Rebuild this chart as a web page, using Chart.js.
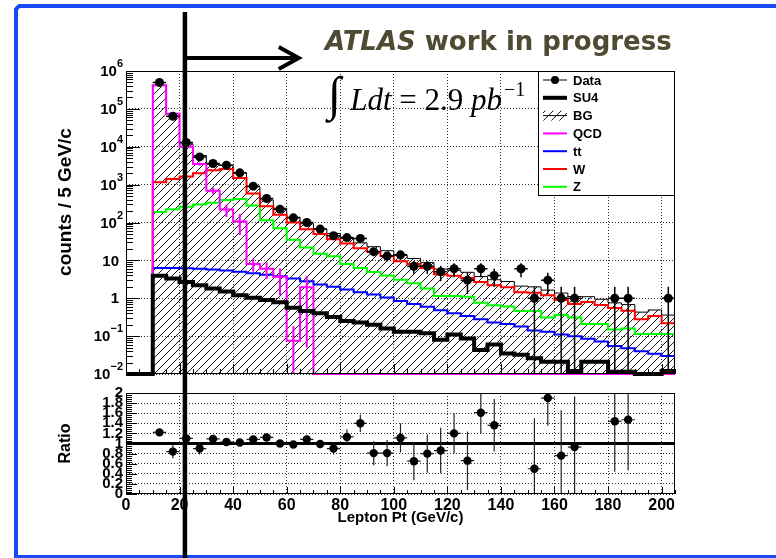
<!DOCTYPE html>
<html>
<head>
<meta charset="utf-8">
<script src="https://cdn.jsdelivr.net/npm/chart.js@4.4.1/dist/chart.umd.min.js"></script>
<style>
  html, body { margin: 0; padding: 0; background: #fff; overflow: hidden; }
  #page { position: relative; width: 776px; height: 558px; overflow: hidden; background: #fff; }
  .bar { position: absolute; background: #1a4af6; }
  #barTop { left: 18px; top: 4px; width: 758px; height: 4px; }
  #barLeft { left: 14px; top: 8px; width: 4px; height: 550px; }
  #barBottom { left: 18px; top: 555px; width: 758px; height: 3px; }
  #corner { position: absolute; left: 14px; top: 4px; width: 10px; height: 10px;
            border-top: 4px solid #1a4af6; border-left: 4px solid #1a4af6; border-radius: 7px 0 0 0; }
  canvas { position: absolute; left: 0; top: 0; }
  #atlas { position: absolute; left: 325px; top: 28px; font: bold 26px "DejaVu Sans"; line-height: 26px;
           color: #4f4a32; white-space: nowrap; }
  #lumi { position: absolute; left: 328px; top: 74px; font-family: "Liberation Serif"; font-size: 31px;
          line-height: 40px; white-space: nowrap; color: #000; }
  #lumi .int { font-size: 48px; line-height: 40px; margin-right: 9px; font-style: italic; }
  #lumi .sup { font-size: 20px; position: relative; top: -14px; margin-left: 2px; }
</style>
</head>
<body>
<div id="page">
  <div class="bar" id="barTop"></div>
  <div class="bar" id="barLeft"></div>
  <div class="bar" id="barBottom"></div>
  <div id="corner"></div>
  <canvas id="main" width="776" height="558"></canvas>
  <canvas id="ratio" width="776" height="558"></canvas>
  <div id="atlas"><i>ATLAS</i> work in progress</div>
  <div id="lumi"><span class="int">∫</span><i>Ldt</i> = 2.9 <i>pb</i><span class="sup">−1</span></div>
</div>
<script>
// 5 GeV bins, 0 - 205 GeV
const binEdges = [0, 5, 10, 15, 20, 25, 30, 35, 40, 45, 50, 55, 60, 65, 70, 75, 80, 85, 90, 95, 100,
  105, 110, 115, 120, 125, 130, 135, 140, 145, 150, 155, 160, 165, 170, 175, 180, 185, 190, 195, 200, 205];
const xTickValues = [0, 20, 40, 60, 80, 100, 120, 140, 160, 180, 200];
const yTickExponents = [-2, -1, 0, 1, 2, 3, 4, 5, 6];
const ratioTickValues = [0, 0.2, 0.4, 0.6, 0.8, 1, 1.2, 1.4, 1.6, 1.8, 2];

const dataCounts = [0, 0, 500000, 64000, 13000, 5400, 3600, 3250, 2050, 910, 430, 225, 133, 100, 67, 45, 40, 38,
  17, 13, 14, 7, 7, 5, 6, 3, 6, 4, 0, 6, 1, 3, 1, 1, 0, 0, 1, 1, 0, 0, 1];
const dataErr = [0, 0, 707, 253, 114, 73, 60, 57, 45, 30, 21, 15, 11.5, 10, 8.2, 6.7, 6.3, 6.2,
  4.1, 3.6, 3.7, 2.6, 2.6, 2.2, 2.4, 1.7, 2.4, 2, 0, 2.4, 1, 1.7, 1, 1, 0, 0, 1, 1, 0, 0, 1];
const su4 = [0, 0, 3.9, 3.3, 2.7, 2.2, 1.8, 1.5, 1.2, 1.03, 0.9, 0.78, 0.56, 0.46, 0.40, 0.32, 0.25, 0.23,
  0.2, 0.16, 0.13, 0.13, 0.12, 0.08, 0.11, 0.087, 0.043, 0.06, 0.035, 0.032, 0.026, 0.021, 0.021, 0.012,
  0.021, 0.021, 0.0115, 0.0115, 0, 0, 0.012];
const bgTotal = [0, 0, 421000, 75600, 11900, 5900, 3430, 3210, 2030, 873, 395, 238, 138, 93, 67, 51, 38, 29,
  23, 18, 13.5, 11.2, 8.7, 5.9, 5.45, 4.84, 3.74, 3.08, 2.77, 2.09, 2.0, 1.64, 1.37, 1.11, 1.1, 0.94,
  0.755, 0.68, 0.43, 0.49, 0.36];
const qcd = [0, 0, 420000, 74000, 10000, 3500, 690, 219, 107, 8, 6, 3.7, 0.076, 1.95,
  0, 0, 0, 0, 0, 0, 0, 0, 0, 0, 0, 0, 0, 0, 0, 0, 0, 0, 0, 0, 0, 0, 0, 0, 0, 0, 0];
const qcdErr = [0, 0, 4000, 2000, 500, 350, 140, 80, 60, 3, 2.8, 2.5, 0.11, 1.9,
  0, 0, 0, 0, 0, 0, 0, 0, 0, 0, 0, 0, 0, 0, 0, 0, 0, 0, 0, 0, 0, 0, 0, 0, 0, 0, 0];
const ttbar = [0, 0, 6.3, 6.3, 6.2, 6.0, 5.7, 5.4, 5.0, 4.6, 4.2, 3.8, 3.3, 2.8, 2.3, 2.0, 1.7, 1.45,
  1.25, 1.05, 0.85, 0.7, 0.6, 0.48, 0.4, 0.34, 0.28, 0.23, 0.21, 0.18, 0.14, 0.13, 0.11, 0.1, 0.085,
  0.072, 0.055, 0.048, 0.04, 0.034, 0.03];
const wjets = [0, 0, 1150, 1400, 1650, 2000, 2400, 2600, 1500, 580, 270, 160, 100, 66, 50, 36, 28, 21,
  17, 13, 9.5, 8, 6.3, 4.3, 3.9, 3.4, 2.7, 2.2, 1.95, 1.45, 1.4, 1.2, 0.9, 0.7, 0.8, 0.66, 0.55, 0.47,
  0.28, 0.34, 0.22];
const zjets = [0, 0, 190, 225, 260, 300, 330, 390, 420, 280, 115, 71, 35, 22, 15, 12.8, 8, 6.3,
  4.9, 4.0, 3.1, 2.5, 1.8, 1.15, 1.15, 1.1, 0.76, 0.65, 0.61, 0.46, 0.46, 0.31, 0.36, 0.31, 0.21, 0.21,
  0.15, 0.16, 0.114, 0.114, 0.114];
const ratio = [null, null, 1.22, 0.84, 1.1, 0.9, 1.09, 1.03, 1.02, 1.08, 1.12, 1.0, 0.98, 1.08, 0.99, 0.9,
  1.13, 1.4, 0.81, 0.81, 1.11, 0.65, 0.8, 0.86, 1.2, 0.66, 1.61, 1.36, null, null, 0.5, 1.9, 0.76, 0.93,
  null, null, 1.44, 1.47, null, null, null];
const ratioErr = [0, 0, 0.03, 0.13, 0.1, 0.12, 0.05, 0.04, 0.04, 0.05, 0.06, 0.05, 0.05, 0.08, 0.08, 0.12,
  0.15, 0.17, 0.24, 0.26, 0.29, 0.38, 0.38, 0.45, 0.4, 0.58, 0.42, 0.52, 0, 0, 1.0, 0.55, 0.9, 1.0,
  0, 0, 1.0, 1.0, 0, 0, 0];

const cutValue = 22;      // lepton pt cut marker
const arrowEnd = 64.5;
const ratioRef = 1;
const mainYTitle = 'counts / 5 GeV/c';
const ratioYTitle = 'Ratio';
const xTitle = 'Lepton Pt (GeV/c)';

const logFloor = 0.01;
const FONT = '"Liberation Sans", Arial, sans-serif';
Chart.defaults.font.family = FONT;
Chart.defaults.color = '#000';

function hatchPattern() {
  const c = document.createElement('canvas');
  c.width = 8; c.height = 8;
  const g = c.getContext('2d');
  g.strokeStyle = '#000';
  g.lineWidth = 0.9;
  g.beginPath();
  g.moveTo(0, 8); g.lineTo(8, 0);
  g.moveTo(-2, 2); g.lineTo(2, -2);
  g.moveTo(6, 10); g.lineTo(10, 6);
  g.stroke();
  return g.createPattern(c, 'repeat');
}
const hatch = hatchPattern();

// histogram as step line: one point per lower bin edge + closing point
function histPoints(values) {
  const pts = values.map((v, i) => ({ x: binEdges[i], y: Math.max(v, logFloor) }));
  pts.push({ x: binEdges[binEdges.length - 1], y: Math.max(values[values.length - 1], logFloor) });
  return pts;
}
function centerPoints(values) {
  return values.map((v, i) => ({ x: (binEdges[i] + binEdges[i + 1]) / 2, y: v > 0 ? v : null }));
}

function drawErrorBars(chart, ds) {
  const eb = ds.errBars;
  if (!eb) return;
  const { ctx, chartArea: a, scales: { x, y } } = chart;
  ctx.save();
  ctx.beginPath();
  ctx.rect(a.left, a.top, a.right - a.left, a.bottom - a.top);
  ctx.clip();
  ctx.strokeStyle = eb.color;
  ctx.lineWidth = eb.width;
  ctx.beginPath();
  eb.values.forEach((v, i) => {
    if (v == null || v <= 0) return;
    const e = eb.err[i];
    const cx = x.getPixelForValue((binEdges[i] + binEdges[i + 1]) / 2);
    const cy = y.getPixelForValue(v);
    if (e > 0) {
      const lo = v - e;
      const ylo = (y.type === 'logarithmic' && lo <= 0) ? a.bottom : y.getPixelForValue(lo);
      ctx.moveTo(cx, ylo);
      ctx.lineTo(cx, y.getPixelForValue(v + e));
    }
    if (eb.xerr) {
      ctx.moveTo(x.getPixelForValue(binEdges[i]), cy);
      ctx.lineTo(x.getPixelForValue(binEdges[i + 1]), cy);
    }
  });
  ctx.stroke();
  ctx.restore();
}

const errorBarPlugin = {
  id: 'errorBars',
  beforeDatasetDraw(chart, args) {
    drawErrorBars(chart, chart.data.datasets[args.index]);
  }
};

function histDataset(label, values, color, width, order, extra) {
  return Object.assign({
    type: 'line', label, data: histPoints(values), borderColor: color, borderWidth: width,
    stepped: true, pointRadius: 0, fill: false, order,
    clip: { left: 0, top: 0, right: 0, bottom: 5 }
  }, extra || {});
}

const mainDecor = {
  id: 'mainDecor',
  afterDraw(chart) {
    const { ctx, chartArea: a, scales: { x, y } } = chart;
    ctx.save();
    ctx.strokeStyle = '#000';
    ctx.lineWidth = 1;
    ctx.strokeRect(a.left + 0.5, a.top + 0.5, a.right - a.left - 1, a.bottom - a.top - 1);

    // ROOT style inward ticks
    ctx.beginPath();
    yTickExponents.forEach((e, k) => {
      const py = Math.round(y.getPixelForValue(Math.pow(10, e))) + 0.5;
      ctx.moveTo(a.left, py); ctx.lineTo(a.left + 14, py);
      if (k === yTickExponents.length - 1) return;
      for (let m = 2; m <= 9; m++) {
        const pm = Math.round(y.getPixelForValue(m * Math.pow(10, e))) + 0.5;
        ctx.moveTo(a.left, pm); ctx.lineTo(a.left + 7, pm);
      }
    });
    binEdges.forEach(v => {
      const px = Math.round(x.getPixelForValue(v)) + 0.5;
      ctx.moveTo(px, a.bottom);
      ctx.lineTo(px, a.bottom - (v % 20 === 0 ? 10 : 5));
    });
    ctx.stroke();

    // tick labels 10^n
    ctx.fillStyle = '#000';
    ctx.textBaseline = 'middle';
    yTickExponents.forEach(e => {
      const py = y.getPixelForValue(Math.pow(10, e));
      if (e === 0 || e === 1) {
        ctx.font = 'bold 15px ' + FONT;
        ctx.textAlign = 'right';
        ctx.fillText(e === 0 ? '1' : '10', a.left - 7, py + 1);
        return;
      }
      const sup = e < 0 ? '\u2212' + (-e) : String(e);
      ctx.font = 'bold 11px ' + FONT;
      const sw = ctx.measureText(sup).width;
      ctx.textAlign = 'left';
      ctx.fillText(sup, a.left - 3 - sw, py - 7);
      ctx.font = 'bold 15px ' + FONT;
      ctx.textAlign = 'right';
      ctx.fillText('10', a.left - 3 - sw, py + 1);
    });

    // axis title
    ctx.save();
    ctx.translate(a.left - 60, a.top + 131);
    ctx.rotate(-Math.PI / 2);
    ctx.font = 'bold 19px ' + FONT;
    ctx.textAlign = 'center';
    ctx.fillText(mainYTitle, 0, 0);
    ctx.restore();

    // legend box
    const lw = 137, lh = 125;
    const lx = a.right - lw, ly = a.top;
    ctx.fillStyle = '#fff';
    ctx.fillRect(lx, ly, lw, lh);
    ctx.strokeStyle = '#000';
    ctx.lineWidth = 1;
    ctx.strokeRect(lx + 0.5, ly + 0.5, lw - 1, lh - 1);
    chart.data.datasets.forEach((ds, i) => {
      const cy = ly + 9 + i * 17.8;
      const x0 = lx + 5, x1 = lx + 29;
      ctx.save();
      if (ds.type === 'scatter') {
        ctx.strokeStyle = '#000'; ctx.lineWidth = 1;
        ctx.beginPath(); ctx.moveTo(x0, cy); ctx.lineTo(x1, cy); ctx.stroke();
        ctx.fillStyle = '#000';
        ctx.beginPath(); ctx.arc((x0 + x1) / 2, cy, 4, 0, Math.PI * 2); ctx.fill();
      } else if (ds.fill) {
        ctx.fillStyle = hatch;
        ctx.fillRect(x0, cy - 5, x1 - x0, 10);
        ctx.strokeStyle = '#000'; ctx.lineWidth = 1;
        ctx.beginPath(); ctx.moveTo(x0, cy); ctx.lineTo(x1, cy); ctx.stroke();
      } else {
        ctx.strokeStyle = ds.borderColor; ctx.lineWidth = ds.borderWidth;
        ctx.beginPath(); ctx.moveTo(x0, cy); ctx.lineTo(x1, cy); ctx.stroke();
      }
      ctx.restore();
      ctx.fillStyle = '#000';
      ctx.font = 'bold 13px ' + FONT;
      ctx.textAlign = 'left';
      ctx.textBaseline = 'middle';
      ctx.fillText(ds.label, lx + 35, cy + 1);
    });
    ctx.restore();
  }
};

const ratioDecor = {
  id: 'ratioDecor',
  afterDraw(chart) {
    const { ctx, chartArea: a, scales: { x, y } } = chart;
    ctx.save();
    ctx.strokeStyle = '#000';
    ctx.lineWidth = 1;
    ctx.strokeRect(a.left + 0.5, a.top + 0.5, a.right - a.left - 1, a.bottom - a.top - 1);
    ctx.beginPath();
    ratioTickValues.forEach((v, k) => {
      const py = Math.round(y.getPixelForValue(v)) + 0.5;
      ctx.moveTo(a.left, py); ctx.lineTo(a.left + 11, py);
      if (k === ratioTickValues.length - 1) return;
      for (let m = 1; m < 5; m++) {
        const pm = Math.round(y.getPixelForValue(v + m * 0.04)) + 0.5;
        ctx.moveTo(a.left, pm); ctx.lineTo(a.left + 6, pm);
      }
    });
    binEdges.forEach(v => {
      const px = Math.round(x.getPixelForValue(v)) + 0.5;
      ctx.moveTo(px, a.bottom);
      ctx.lineTo(px, a.bottom - (v % 20 === 0 ? 7 : 4));
    });
    ctx.stroke();

    // cut marker: vertical line through both pads and arrow
    const cx = x.getPixelForValue(cutValue);
    const ax = x.getPixelForValue(arrowEnd);
    ctx.lineWidth = 4.5;
    ctx.beginPath();
    ctx.moveTo(cx, 12); ctx.lineTo(cx, chart.height);
    ctx.stroke();
    ctx.lineWidth = 4;
    ctx.beginPath();
    ctx.moveTo(cx, 58); ctx.lineTo(ax, 58);
    ctx.moveTo(ax - 20, 47); ctx.lineTo(ax, 58); ctx.lineTo(ax - 20, 69);
    ctx.stroke();
    ctx.restore();
  }
};

const gridLines = { color: '#333', lineWidth: 1, drawTicks: false };
const dotted = { display: false, dash: [1, 2] };

new Chart(document.getElementById('main'), {
  type: 'line',
  data: {
    datasets: [
      {
        type: 'scatter', label: 'Data', data: centerPoints(dataCounts), showLine: false,
        pointRadius: 4.5, pointHoverRadius: 4.5, pointBackgroundColor: '#000', pointBorderWidth: 0, order: 0,
        errBars: { values: dataCounts, err: dataErr, xerr: true, color: '#000', width: 1.5 }
      },
      histDataset('SU4', su4, '#000', 4, 1),
      histDataset('BG', bgTotal, '#000', 1, 6, { fill: 'start', backgroundColor: hatch }),
      histDataset('QCD', qcd, '#ff00ff', 2, 2,
        { errBars: { values: qcd, err: qcdErr, xerr: false, color: '#ff00ff', width: 2 } }),
      histDataset('tt', ttbar, '#0000ff', 2, 3),
      histDataset('W', wjets, '#ff0000', 2, 4),
      histDataset('Z', zjets, '#00ff00', 2, 5)
    ]
  },
  options: {
    responsive: false,
    animation: false,
    devicePixelRatio: 1,
    events: [],
    layout: { autoPadding: false, padding: { left: 126, right: 101, top: 71, bottom: 184 } },
    plugins: { legend: { display: false }, tooltip: { enabled: false } },
    scales: {
      x: {
        type: 'linear', min: binEdges[0], max: binEdges[binEdges.length - 1],
        afterBuildTicks: s => { s.ticks = xTickValues.map(v => ({ value: v })); },
        afterFit: s => { s.height = 0; },
        ticks: { display: false }, grid: gridLines, border: dotted
      },
      y: {
        type: 'logarithmic', min: Math.pow(10, yTickExponents[0]),
        max: Math.pow(10, yTickExponents[yTickExponents.length - 1]),
        afterBuildTicks: s => { s.ticks = yTickExponents.map(e => ({ value: Math.pow(10, e) })); },
        afterFit: s => { s.width = 0; },
        ticks: { display: false }, grid: gridLines, border: dotted
      }
    }
  },
  plugins: [errorBarPlugin, mainDecor]
});

new Chart(document.getElementById('ratio'), {
  type: 'line',
  data: {
    datasets: [
      {
        type: 'scatter', label: 'Ratio', data: centerPoints(ratio), showLine: false,
        pointRadius: 4.2, pointHoverRadius: 4.2, pointBackgroundColor: '#000', pointBorderWidth: 0, order: 0,
        errBars: { values: ratio, err: ratioErr, xerr: true, color: '#222', width: 1.2 }
      },
      {
        type: 'line', label: 'ref', order: 1, pointRadius: 0, borderColor: '#000', borderWidth: 3,
        data: [{ x: binEdges[0], y: ratioRef }, { x: binEdges[binEdges.length - 1], y: ratioRef }]
      }
    ]
  },
  options: {
    responsive: false,
    animation: false,
    devicePixelRatio: 1,
    events: [],
    layout: { autoPadding: false, padding: { left: 52, right: 101, top: 393, bottom: 27 } },
    plugins: { legend: { display: false }, tooltip: { enabled: false } },
    scales: {
      x: {
        type: 'linear', min: binEdges[0], max: binEdges[binEdges.length - 1],
        afterBuildTicks: s => { s.ticks = xTickValues.map(v => ({ value: v })); },
        afterFit: s => { s.height = 37; },
        ticks: { font: { size: 16, weight: 'bold' }, padding: 2, callback: v => String(v), autoSkip: false, maxRotation: 0 },
        grid: gridLines, border: dotted,
        title: { display: true, text: xTitle, font: { size: 15, weight: 'bold' }, padding: { top: 4, bottom: 4 } }
      },
      y: {
        type: 'linear', min: ratioTickValues[0], max: ratioTickValues[ratioTickValues.length - 1],
        afterBuildTicks: s => { s.ticks = ratioTickValues.map(v => ({ value: v })); },
        afterFit: s => { s.width = 74; },
        ticks: { font: { size: 15, weight: 'bold' }, padding: 3, autoSkip: false,
                 callback: v => String(Math.round(v * 10) / 10) },
        grid: gridLines, border: dotted,
        title: { display: true, text: ratioYTitle, font: { size: 16, weight: 'bold' }, padding: { top: 4, bottom: 4 } }
      }
    }
  },
  plugins: [errorBarPlugin, ratioDecor]
});
</script>
</body>
</html>
